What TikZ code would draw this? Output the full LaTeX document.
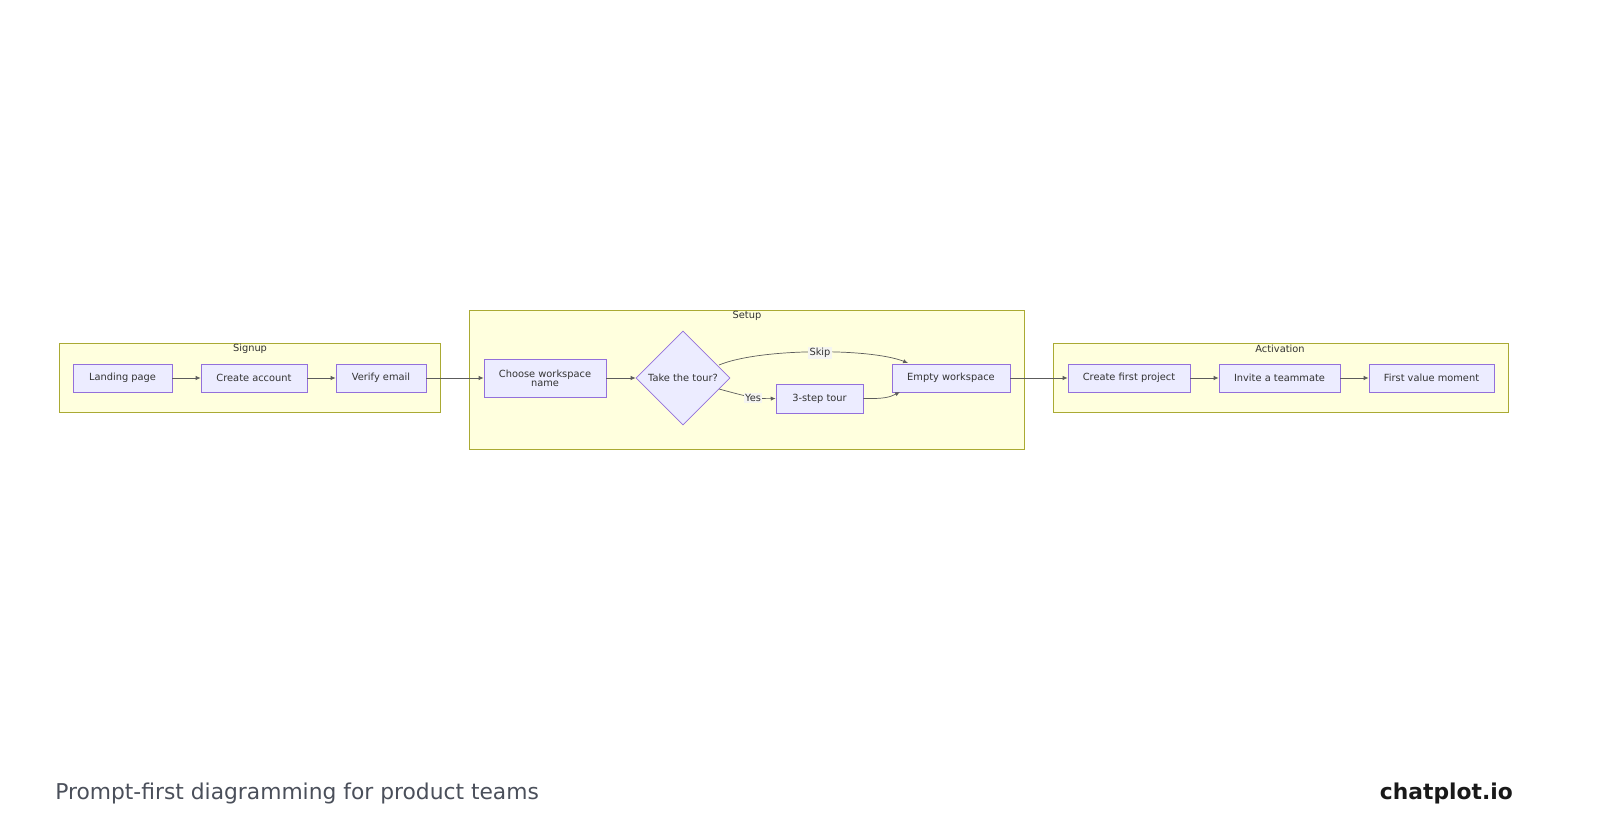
\documentclass[tikz,border=0pt]{standalone}
\usepackage{fontspec}
\setmainfont{DejaVu Sans}
\usetikzlibrary{shapes.geometric,arrows.meta}
\definecolor{nfill}{HTML}{ECECFF}
\definecolor{nline}{HTML}{9370DB}
\definecolor{cfill}{HTML}{FFFFDE}
\definecolor{cline}{HTML}{AAAA33}
\definecolor{txt}{HTML}{333333}
\definecolor{foot}{HTML}{4A4F5A}
\begin{document}
\begin{tikzpicture}[x=0.025cm,y=-0.025cm,
  box/.style={draw=nline,fill=nfill,line width=0.5pt,font=\fontsize{7}{7.5}\selectfont,text=txt,align=center,inner sep=0pt},
  clus/.style={draw=cline,fill=cfill,line width=0.5pt},
  clab/.style={font=\fontsize{7}{8}\selectfont,text=txt},
  edge/.style={draw=txt!80,line width=0.5pt,-{Latex[length=3.5pt,width=3pt]}},
  elab/.style={fill=cfill!60!gray!20,font=\fontsize{7}{8}\selectfont,text=txt,inner sep=1pt}]
\useasboundingbox (0,0) rectangle (1600,840);
% clusters
\draw[clus] (59,343) rectangle (440,412);
\node[clab] (ls) at (250,349) {Signup};
\draw[clus] (469,310) rectangle (1024,449);
\node[clab] (lst) at (747,316) {Setup};
\draw[clus] (1053,343) rectangle (1508,412);
\node[clab] (la) at (1280,349) {Activation};
% nodes
\newcommand{\bx}[6]{\node[box,minimum width=#4*0.025cm-#2*0.025cm,minimum height=#5*0.025cm-#3*0.025cm] (#1) at ({(#2+#4)/2},{(#3+#5)/2}) {#6};}
\bx{lp}{73}{364}{172}{392}{Landing page}
\bx{ca}{201}{364}{307}{392}{Create account}
\bx{ve}{336}{364}{426}{392}{Verify email}
\bx{cw}{484}{359}{606}{397}{Choose workspace\\[-1pt]name}
\node[box,diamond,minimum width=94*0.025cm,minimum height=94*0.025cm,inner sep=0pt] (tt) at (683,378) {Take the tour?};
\bx{st}{776}{384}{863}{413}{3-step tour}
\bx{ew}{892}{364}{1010}{392}{Empty workspace}
\bx{cf}{1068}{364}{1190}{392}{Create first project}
\bx{it}{1219}{364}{1340}{392}{Invite a teammate}
\bx{fv}{1369}{364}{1494}{392}{First value moment}
\coordinate (sk1) at (719,365);
\coordinate (sk2) at (908,363);
\coordinate (ye1) at (719,389);
\coordinate (st2) at (900,392);
% edges
\draw[edge] (lp) -- (ca);
\draw[edge] (ca) -- (ve);
\draw[edge] (ve) -- (cw);
\draw[edge] (cw) -- (tt);
\draw[edge] (sk1) .. controls (760,348) and (870,348) .. (sk2);
\node[elab] (skl) at (820,353) {Skip};
\draw[edge] (ye1) .. controls (745,396) and (755,399) .. (st.west);
\node[elab] (yl) at (753,398) {Yes};
\draw[edge] (st.east) .. controls (885,399) and (890,397) .. (st2);
\draw[edge] (ew) -- (cf);
\draw[edge] (cf) -- (it);
\draw[edge] (it) -- (fv);
% footer
\node[anchor=base west,font=\fontsize{15.5}{18}\selectfont,text=foot,inner sep=0pt] (ft) at (55,799) {Prompt-first diagramming for product teams};
\node[anchor=base east,font=\bfseries\fontsize{15.5}{18}\selectfont,text=black!90,inner sep=0pt] (cp) at (1513,799) {chatplot.io};
\end{tikzpicture}
\end{document}
